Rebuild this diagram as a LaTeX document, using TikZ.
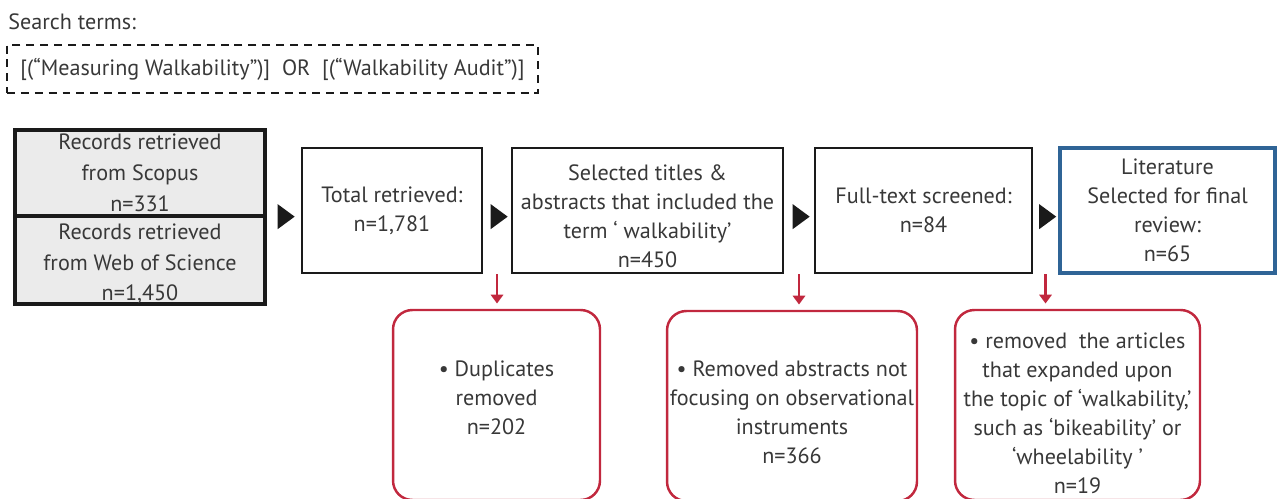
\documentclass[tikz,border=0pt]{standalone}
\usepackage{fontspec}
\setmainfont{PT Sans}
\usepackage{tikz}
\usetikzlibrary{shapes.geometric, arrows.meta, positioning, calc}
\definecolor{flowblack}{HTML}{1A1A1A}
\definecolor{flowtext}{HTML}{383838}
\definecolor{flowgray}{HTML}{EBEBEB}
\definecolor{flowblue}{HTML}{2F6496}
\definecolor{flowred}{HTML}{C1283E}

\begin{document}
\begin{tikzpicture}[
  x=0.02cm, y=-0.02cm,
  font=\fontsize{12.6}{16.5}\selectfont, text=flowtext,
  src/.style={draw=flowblack, line width=2.3pt, fill=flowgray, minimum width=5cm, align=center, inner sep=0pt, font=\fontsize{12.6}{17.5}\selectfont},
  stage/.style={draw=flowblack, line width=1.2pt, minimum height=2.5cm, align=center, inner sep=0pt},
  final/.style={draw=flowblue, line width=2.3pt, minimum height=2.5cm, minimum width=4.3cm, align=center, inner sep=0pt},
  excl/.style={draw=flowred, line width=1.4pt, rounded corners=11pt, minimum height=3.8cm, align=center, inner sep=0pt},
  tri/.style={isosceles triangle, isosceles triangle stretches, shape border rotate=0, fill=flowblack, inner sep=0pt, minimum height=0.34cm, minimum width=0.5cm, yshift=-3.5pt},
  redarr/.style={-{Triangle[width=7pt,length=5pt]}, line width=1.2pt, flowred, shorten >=3pt}
]
\useasboundingbox (0,0) rectangle (1277,499);
\clip (0,0) rectangle (1277,499);

% search terms
\node[anchor=west, inner sep=0pt] (lbl) at (8,22) {Search terms:};
\node[draw=flowblack, line width=1.1pt, dash pattern=on 4.5pt off 3.4pt, minimum width=10.62cm, minimum height=0.96cm, inner sep=0pt] (query) at (272.5,69) {[(“Measuring Walkability”)]\ \ OR\ \ [(“Walkability Audit”)]};

% sources (lower one first, so n=331 stays on top)
\node[src, minimum height=1.74cm] (wos) at (140,259.5) {\rule{0pt}{14pt}Records retrieved\\ from Web of Science\\ n=1,450};
\node[src, minimum height=1.72cm] (scop) at (140,173) {Records retrieved\\ from Scopus\\ n=331};

% screening stages
\node[stage, minimum width=3.6cm] (tot) at (392,210.5) {Total retrieved:\\ n=1,781};
\node[stage, minimum width=5.42cm] (sel) at (647.5,210.5) {\rule{0pt}{15pt}Selected titles \&\\ abstracts that included the\\ term ‘ walkability’\\ n=450};
\node[stage, minimum width=4.34cm] (full) at (923.5,210.5) {Full-text screened:\\ n=84};
\node[final] (lit) at (1167.5,210.5) {Literature\\ Selected for final\\ review:\\ n=65};

% exclusions
\node[excl, minimum width=4.14cm] (dup) at (496.5,405) {• Duplicates\\ removed\\ n=202\rule[-8pt]{0pt}{1pt}};
\node[excl, minimum width=5cm] (obs) at (792,406) {\rule{0pt}{16pt}• Removed abstracts not\\ focusing on observational\\ instruments\\ n=366};
\node[excl, minimum width=4.9cm] (wide) at (1077.5,405) {\rule{0pt}{18pt}• removed\ \ the articles\\ that expanded upon\\ the topic of ‘walkability,’\\ such as ‘bikeability’ or\\ ‘wheelability ’\\ n=19};

\path (scop.east |- tot.east) -- node[tri] (t1) {} (tot.west);
\path (tot.east) -- node[tri] (t2) {} (sel.west);
\path (sel.east) -- node[tri] (t3) {} (full.west);
\path (full.east) -- node[tri] (t4) {} (lit.west);

\draw[redarr] (t2 |- tot.south) -- (t2 |- dup.north);
\draw[redarr] (t3 |- tot.south) -- (t3 |- obs.north);
\draw[redarr] (t4 |- tot.south) -- (t4 |- wide.north);
\end{tikzpicture}
\end{document}
